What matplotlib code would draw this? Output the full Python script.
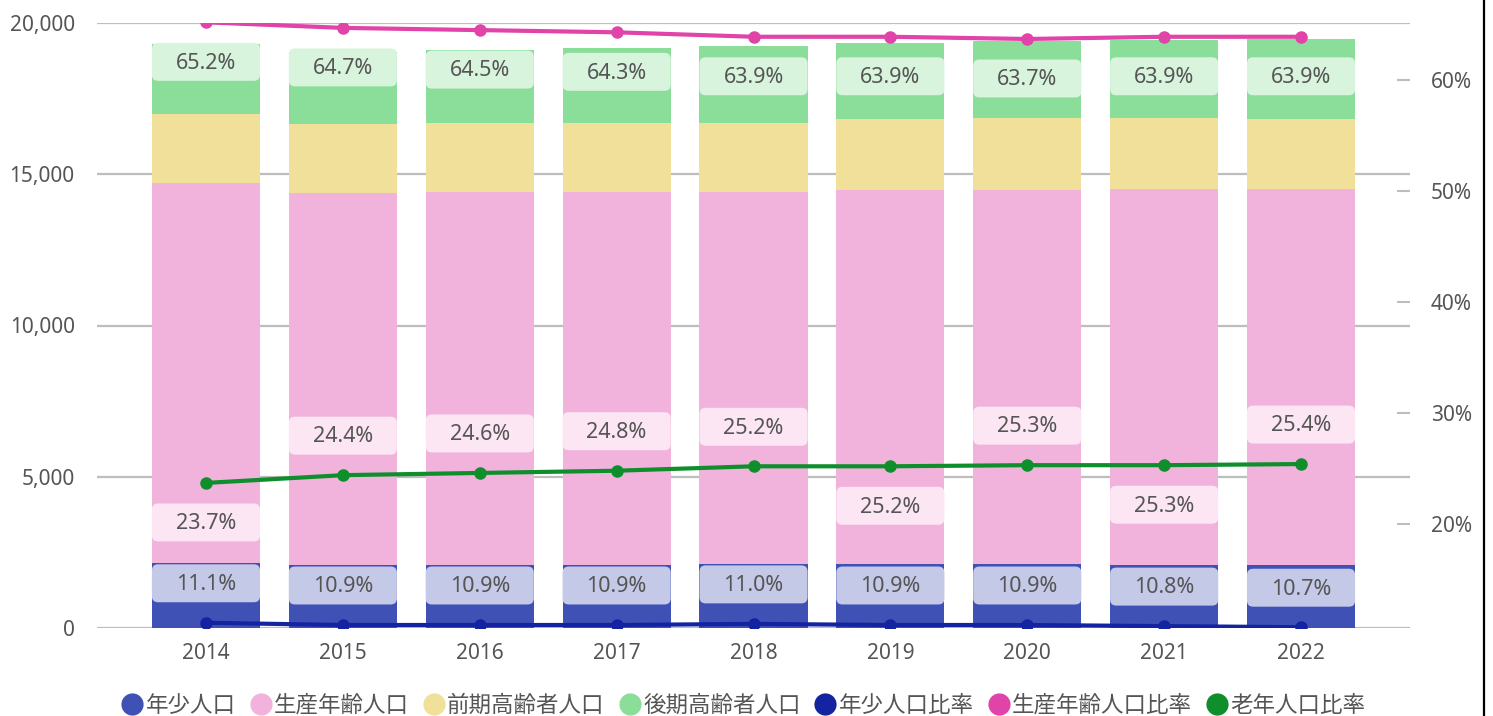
import matplotlib.pyplot as plt
from matplotlib.patches import FancyBboxPatch
from matplotlib.lines import Line2D
from matplotlib.ticker import FuncFormatter
import numpy as np

plt.rcParams['font.family'] = ['Noto Sans', 'Noto Sans CJK JP', 'DejaVu Sans']

years = ['2014', '2015', '2016', '2017', '2018', '2019', '2020', '2021', '2022']

# population (stacked bars)
young_pop = [2142, 2075, 2083, 2090, 2116, 2108, 2115, 2099, 2083]
prod_pop = [12584, 12320, 12324, 12329, 12294, 12358, 12361, 12421, 12442]
early_old = [2266, 2266, 2287, 2275, 2284, 2360, 2384, 2340, 2301]
late_old = [2314, 2380, 2413, 2480, 2546, 2513, 2545, 2578, 2645]

# ratios (%)
young_ratio = [11.1, 10.9, 10.9, 10.9, 11.0, 10.9, 10.9, 10.8, 10.7]
prod_ratio = [65.2, 64.7, 64.5, 64.3, 63.9, 63.9, 63.7, 63.9, 63.9]
old_ratio = [23.7, 24.4, 24.6, 24.8, 25.2, 25.2, 25.3, 25.3, 25.4]
old_label_side = [-1, 1, 1, 1, 1, -1, 1, -1, 1]  # 1 = above point, -1 = below

c_young, c_prod, c_early, c_late = '#3f51b5', '#f1b3db', '#f0e09a', '#8ade9a'
c_l_young, c_l_prod, c_l_old = '#1424a0', '#e044a8', '#0e8f2c'
txt = '#555555'

fig = plt.figure(figsize=(14.93, 7.16), dpi=100)
ax = fig.add_axes([97/1493, 1-628/716, (1410-97)/1493, (628-23)/716])
ax2 = ax.twinx()

x = np.arange(len(years))
w = 0.79
b1 = np.array(young_pop)
b2 = b1 + np.array(prod_pop)
b3 = b2 + np.array(early_old)
ax.bar(x, young_pop, w, color=c_young, zorder=2, label='年少人口')
ax.bar(x, prod_pop, w, bottom=b1, color=c_prod, zorder=2, label='生産年齢人口')
ax.bar(x, early_old, w, bottom=b2, color=c_early, zorder=2, label='前期高齢者人口')
ax.bar(x, late_old, w, bottom=b3, color=c_late, zorder=2, label='後期高齢者人口')

ax.set_xlim(-0.796, 8.796)
ax.set_ylim(0, 20000)
ax.set_yticks([0, 5000, 10000, 15000, 20000])
ax.yaxis.set_major_formatter(FuncFormatter(lambda v, p: f'{int(v):,}'))
ax.grid(axis='y', color='#bdbdbd', linewidth=1.6, zorder=0)
ax.set_axisbelow(True)
ax.set_xticks(x)
ax.set_xticklabels(years)
ax.tick_params(axis='x', length=0, pad=11, labelsize=15, labelcolor=txt)
ax.tick_params(axis='y', length=0, pad=16, labelsize=15, labelcolor=txt)
for s in ax.spines.values():
    s.set_visible(False)

ax2.plot(x, young_ratio, color=c_l_young, lw=3, marker='o', ms=8, label='年少人口比率', zorder=3)
ax2.plot(x, prod_ratio, color=c_l_prod, lw=3, marker='o', ms=8, label='生産年齢人口比率', zorder=3)
ax2.plot(x, old_ratio, color=c_l_old, lw=3, marker='o', ms=8, label='老年人口比率', zorder=3)
ax2.set_ylim(10.63, 65.14)
ax2.set_yticks([20, 30, 40, 50, 60])
ax2.yaxis.set_major_formatter(FuncFormatter(lambda v, p: f'{int(v)}%'))
ax2.tick_params(axis='y', direction='in', length=9.5, width=1.5, color='#bdbdbd',
                pad=15, labelsize=15, labelcolor=txt)
for s in ax2.spines.values():
    s.set_visible(False)

# label boxes: offset 3.56 % units (~40px), height ~3.42 % units
off = 3.56
bh = 3.42
aspect = 137 / 11.1


def label(xi, yc, text, fc):
    p = FancyBboxPatch((xi - w/2, yc - bh/2), w, bh,
                       boxstyle='round,pad=0,rounding_size=0.045',
                       mutation_aspect=aspect, fc=fc, ec='none', zorder=4)
    ax2.add_patch(p)
    ax2.text(xi, yc - 0.12, text, ha='center', va='center', fontsize=15.5, color=txt, zorder=5)


for i in range(len(years)):
    label(x[i], young_ratio[i] + off, f'{young_ratio[i]:.1f}%', '#c5c9e8')
    label(x[i], prod_ratio[i] - off, f'{prod_ratio[i]:.1f}%', '#d8f4dd')
    label(x[i], old_ratio[i] + old_label_side[i] * off, f'{old_ratio[i]:.1f}%', '#fce6f3')

h1, l1 = ax.get_legend_handles_labels()
h2, l2 = ax2.get_legend_handles_labels()
handles = [Line2D([], [], ls='none', marker='o', ms=16, mfc=h.patches[0].get_facecolor(), mec='none')
           for h in h1]
handles += [Line2D([], [], ls='none', marker='o', ms=16, mfc=h.get_color(), mec='none') for h in h2]
fig.legend(handles, l1 + l2, loc='center', bbox_to_anchor=(742/1493, 1 - 706/716), ncol=7,
           frameon=False, fontsize=16.2, handletextpad=0.0, columnspacing=0.5,
           handlelength=1.2, labelcolor=txt)

fig.add_artist(Line2D([1484/1493, 1484/1493], [0, 1], color='black', lw=1.6))

plt.savefig('out.png', dpi=100)
